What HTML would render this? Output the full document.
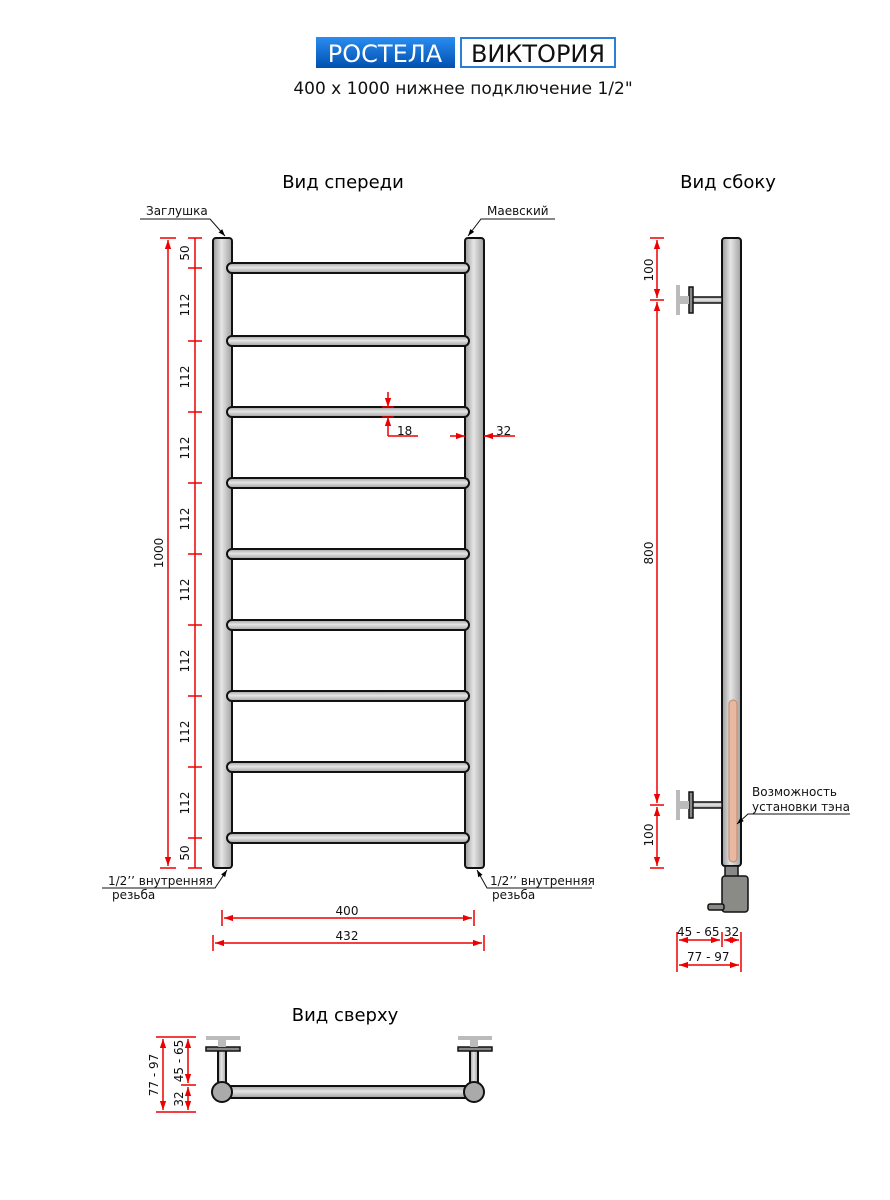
<!DOCTYPE html>
<html><head><meta charset="utf-8"><style>
body{margin:0;background:#fff}
svg{display:block}
text{font-family:"DejaVu Sans","Liberation Sans",sans-serif}
</style></head><body>
<svg width="890" height="1200" viewBox="0 0 890 1200" xmlns="http://www.w3.org/2000/svg">
<defs>
<linearGradient id="pv" x1="0" x2="1" y1="0" y2="0"><stop offset="0" stop-color="#9a9a9a"/><stop offset="0.45" stop-color="#e6e6e6"/><stop offset="1" stop-color="#a0a0a0"/></linearGradient>
<linearGradient id="ph" x1="0" x2="0" y1="0" y2="1"><stop offset="0" stop-color="#a0a0a0"/><stop offset="0.45" stop-color="#e6e6e6"/><stop offset="1" stop-color="#a0a0a0"/></linearGradient>
<linearGradient id="blue" x1="0" x2="0" y1="0" y2="1"><stop offset="0" stop-color="#2a8df0"/><stop offset="1" stop-color="#0050b0"/></linearGradient>
<marker id="a" viewBox="0 0 10 10" refX="10" refY="5" markerWidth="6" markerHeight="6" orient="auto-start-reverse"><path d="M0,1.5 L10,5 L0,8.5 z" fill="#e00"/></marker>
<marker id="k" viewBox="0 0 10 10" refX="10" refY="5" markerWidth="7" markerHeight="7" orient="auto"><path d="M0,1.5 L10,5 L0,8.5 z" fill="#000"/></marker>
</defs>

<!-- header -->
<rect x="316" y="37" width="139" height="31" fill="url(#blue)"/>
<text x="385" y="62" font-size="24" fill="#fff" text-anchor="middle" font-family="Liberation Sans">РОСТЕЛА</text>
<rect x="461" y="38" width="154" height="29" fill="#fff" stroke="#2a7fd8" stroke-width="2"/>
<text x="538" y="62" font-size="24" fill="#111" text-anchor="middle" font-family="Liberation Sans">ВИКТОРИЯ</text>
<text x="463" y="94" font-size="17" text-anchor="middle" fill="#111">400 x 1000 нижнее подключение 1/2"</text>

<text x="343" y="188" font-size="18" text-anchor="middle">Вид спереди</text>
<text x="728" y="188" font-size="18" text-anchor="middle">Вид сбоку</text>
<text x="345" y="1021" font-size="18" text-anchor="middle">Вид сверху</text>

<!-- front view -->
<g stroke="#111" stroke-width="2">
<rect x="213" y="238" width="19" height="630" rx="3" fill="url(#pv)"/>
<rect x="465" y="238" width="19" height="630" rx="3" fill="url(#pv)"/>
<g fill="url(#ph)">
<rect x="227" y="263" width="242" height="10" rx="5"/>
<rect x="227" y="336" width="242" height="10" rx="5"/>
<rect x="227" y="407" width="242" height="10" rx="5"/>
<rect x="227" y="478" width="242" height="10" rx="5"/>
<rect x="227" y="549" width="242" height="10" rx="5"/>
<rect x="227" y="620" width="242" height="10" rx="5"/>
<rect x="227" y="691" width="242" height="10" rx="5"/>
<rect x="227" y="762" width="242" height="10" rx="5"/>
<rect x="227" y="833" width="242" height="10" rx="5"/>
</g>
</g>

<g stroke="#e00" stroke-width="1.5" fill="none">
<line x1="168" y1="240" x2="168" y2="866" marker-start="url(#a)" marker-end="url(#a)"/>
<line x1="160" y1="238" x2="176" y2="238"/><line x1="160" y1="868" x2="176" y2="868"/>
<line x1="195" y1="238" x2="195" y2="868"/>
<g>
<line x1="188" y1="238" x2="202" y2="238"/><line x1="188" y1="268" x2="202" y2="268"/><line x1="188" y1="341" x2="202" y2="341"/><line x1="188" y1="412" x2="202" y2="412"/><line x1="188" y1="483" x2="202" y2="483"/><line x1="188" y1="554" x2="202" y2="554"/><line x1="188" y1="625" x2="202" y2="625"/><line x1="188" y1="696" x2="202" y2="696"/><line x1="188" y1="767" x2="202" y2="767"/><line x1="188" y1="838" x2="202" y2="838"/><line x1="188" y1="868" x2="202" y2="868"/>
</g>
<line x1="388" y1="392" x2="388" y2="407" marker-end="url(#a)"/>
<line x1="388" y1="436" x2="388" y2="417" marker-end="url(#a)"/>
<line x1="388" y1="436" x2="418" y2="436"/>
<line x1="382" y1="407" x2="394" y2="407"/><line x1="382" y1="417" x2="394" y2="417"/>
<line x1="450" y1="436" x2="465" y2="436" marker-end="url(#a)"/>
<line x1="500" y1="436" x2="484" y2="436" marker-end="url(#a)"/>
<line x1="484" y1="436" x2="515" y2="436"/>
<line x1="224" y1="918" x2="472" y2="918" marker-start="url(#a)" marker-end="url(#a)"/>
<line x1="222" y1="910" x2="222" y2="926"/><line x1="474" y1="910" x2="474" y2="926"/>
<line x1="215" y1="943" x2="482" y2="943" marker-start="url(#a)" marker-end="url(#a)"/>
<line x1="213" y1="935" x2="213" y2="951"/><line x1="484" y1="935" x2="484" y2="951"/>
</g>
<g font-size="12" fill="#111">
<text transform="translate(163,553) rotate(-90)" text-anchor="middle">1000</text>
<g text-anchor="middle">
<text transform="translate(189,253) rotate(-90)">50</text>
<text transform="translate(189,305) rotate(-90)">112</text>
<text transform="translate(189,377) rotate(-90)">112</text>
<text transform="translate(189,448) rotate(-90)">112</text>
<text transform="translate(189,519) rotate(-90)">112</text>
<text transform="translate(189,590) rotate(-90)">112</text>
<text transform="translate(189,661) rotate(-90)">112</text>
<text transform="translate(189,732) rotate(-90)">112</text>
<text transform="translate(189,803) rotate(-90)">112</text>
<text transform="translate(189,853) rotate(-90)">50</text>
</g>
<text x="397" y="435">18</text>
<text x="496" y="435">32</text>
<text x="347" y="915" text-anchor="middle">400</text>
<text x="347" y="940" text-anchor="middle">432</text>
<text x="146" y="215">Заглушка</text>
<text x="487" y="215">Маевский</text>
<text x="108" y="885">1/2’’ внутренняя</text>
<text x="112" y="899">резьба</text>
<text x="490" y="885">1/2’’ внутренняя</text>
<text x="492" y="899">резьба</text>
</g>
<g stroke="#111" stroke-width="1" fill="none">
<polyline points="140,219 210,219 225,236" marker-end="url(#k)"/>
<polyline points="555,219 481,219 468,236" marker-end="url(#k)"/>
<polyline points="102,888 215,888 227,870" marker-end="url(#k)"/>
<polyline points="592,888 487,888 477,870" marker-end="url(#k)"/>
</g>

<!-- side view -->
<g stroke="#111" stroke-width="2">
<rect x="722" y="238" width="19" height="628" rx="3" fill="url(#pv)"/>
</g>
<rect x="729" y="700" width="8" height="162" rx="4" fill="#e8b9a0" stroke="#c08870" stroke-width="1"/>
<g stroke="#111" stroke-width="1.5">
<rect x="692" y="297" width="30" height="6" fill="url(#ph)"/>
<rect x="689" y="287" width="4" height="26" fill="#888"/>
<rect x="680" y="296" width="9" height="8" fill="#bbb" stroke="none"/>
<rect x="676" y="285" width="4" height="30" fill="#bbb" stroke="none"/>
<rect x="692" y="802" width="30" height="6" fill="url(#ph)"/>
<rect x="689" y="792" width="4" height="26" fill="#888"/>
<rect x="680" y="801" width="9" height="8" fill="#bbb" stroke="none"/>
<rect x="676" y="790" width="4" height="30" fill="#bbb" stroke="none"/>
<rect x="725" y="866" width="13" height="11" fill="#888"/>
<rect x="722" y="876" width="26" height="36" rx="3" fill="#8a8a86"/>
<rect x="708" y="904" width="16" height="6" rx="2" fill="#8a8a86"/>
</g>
<g stroke="#e00" stroke-width="1.5" fill="none">
<line x1="657" y1="240" x2="657" y2="298" marker-start="url(#a)" marker-end="url(#a)"/>
<line x1="657" y1="302" x2="657" y2="803" marker-start="url(#a)" marker-end="url(#a)"/>
<line x1="657" y1="807" x2="657" y2="866" marker-start="url(#a)" marker-end="url(#a)"/>
<line x1="650" y1="238" x2="664" y2="238"/><line x1="650" y1="300" x2="664" y2="300"/><line x1="650" y1="805" x2="664" y2="805"/><line x1="650" y1="868" x2="664" y2="868"/>
<line x1="679" y1="940" x2="720" y2="940" marker-start="url(#a)" marker-end="url(#a)"/>
<line x1="724" y1="940" x2="739" y2="940" marker-start="url(#a)" marker-end="url(#a)"/>
<line x1="679" y1="965" x2="739" y2="965" marker-start="url(#a)" marker-end="url(#a)"/>
<line x1="677" y1="932" x2="677" y2="972"/><line x1="722" y1="932" x2="722" y2="947"/><line x1="741" y1="932" x2="741" y2="972"/>
</g>
<g font-size="12" fill="#111">
<text transform="translate(653,270) rotate(-90)" text-anchor="middle">100</text>
<text transform="translate(653,553) rotate(-90)" text-anchor="middle">800</text>
<text transform="translate(653,835) rotate(-90)" text-anchor="middle">100</text>
<text x="752" y="796">Возможность</text>
<text x="752" y="811">установки тэна</text>
<text x="677" y="936">45 - 65</text>
<text x="724" y="936">32</text>
<text x="687" y="961">77 - 97</text>
</g>
<polyline points="850,814 748,814 737,824" stroke="#111" stroke-width="1" fill="none" marker-end="url(#k)"/>

<!-- top view -->
<g stroke="#111" stroke-width="2">
<rect x="218" y="1050" width="8" height="34" fill="url(#pv)"/>
<rect x="470" y="1050" width="8" height="34" fill="url(#pv)"/>
<rect x="222" y="1086" width="252" height="12" fill="url(#ph)"/>
<circle cx="222" cy="1092" r="10" fill="#aaa"/>
<circle cx="474" cy="1092" r="10" fill="#aaa"/>
<rect x="206" y="1047" width="34" height="4" fill="#888" stroke-width="1.5"/>
<rect x="458" y="1047" width="34" height="4" fill="#888" stroke-width="1.5"/>
</g>
<rect x="206" y="1036" width="34" height="4" fill="#bbb"/>
<rect x="218" y="1040" width="8" height="7" fill="#bbb"/>
<rect x="458" y="1036" width="34" height="4" fill="#bbb"/>
<rect x="470" y="1040" width="8" height="7" fill="#bbb"/>
<g stroke="#e00" stroke-width="1.5" fill="none">
<line x1="163" y1="1039" x2="163" y2="1110" marker-start="url(#a)" marker-end="url(#a)"/>
<line x1="188" y1="1039" x2="188" y2="1083" marker-start="url(#a)" marker-end="url(#a)"/>
<line x1="188" y1="1087" x2="188" y2="1110" marker-start="url(#a)" marker-end="url(#a)"/>
<line x1="156" y1="1037" x2="196" y2="1037"/><line x1="156" y1="1112" x2="196" y2="1112"/><line x1="181" y1="1085" x2="196" y2="1085"/>
</g>
<g font-size="12" fill="#111" text-anchor="middle">
<text transform="translate(158,1075) rotate(-90)">77 - 97</text>
<text transform="translate(183,1061) rotate(-90)">45 - 65</text>
<text transform="translate(183,1099) rotate(-90)">32</text>
</g>
</svg>
</body></html>
